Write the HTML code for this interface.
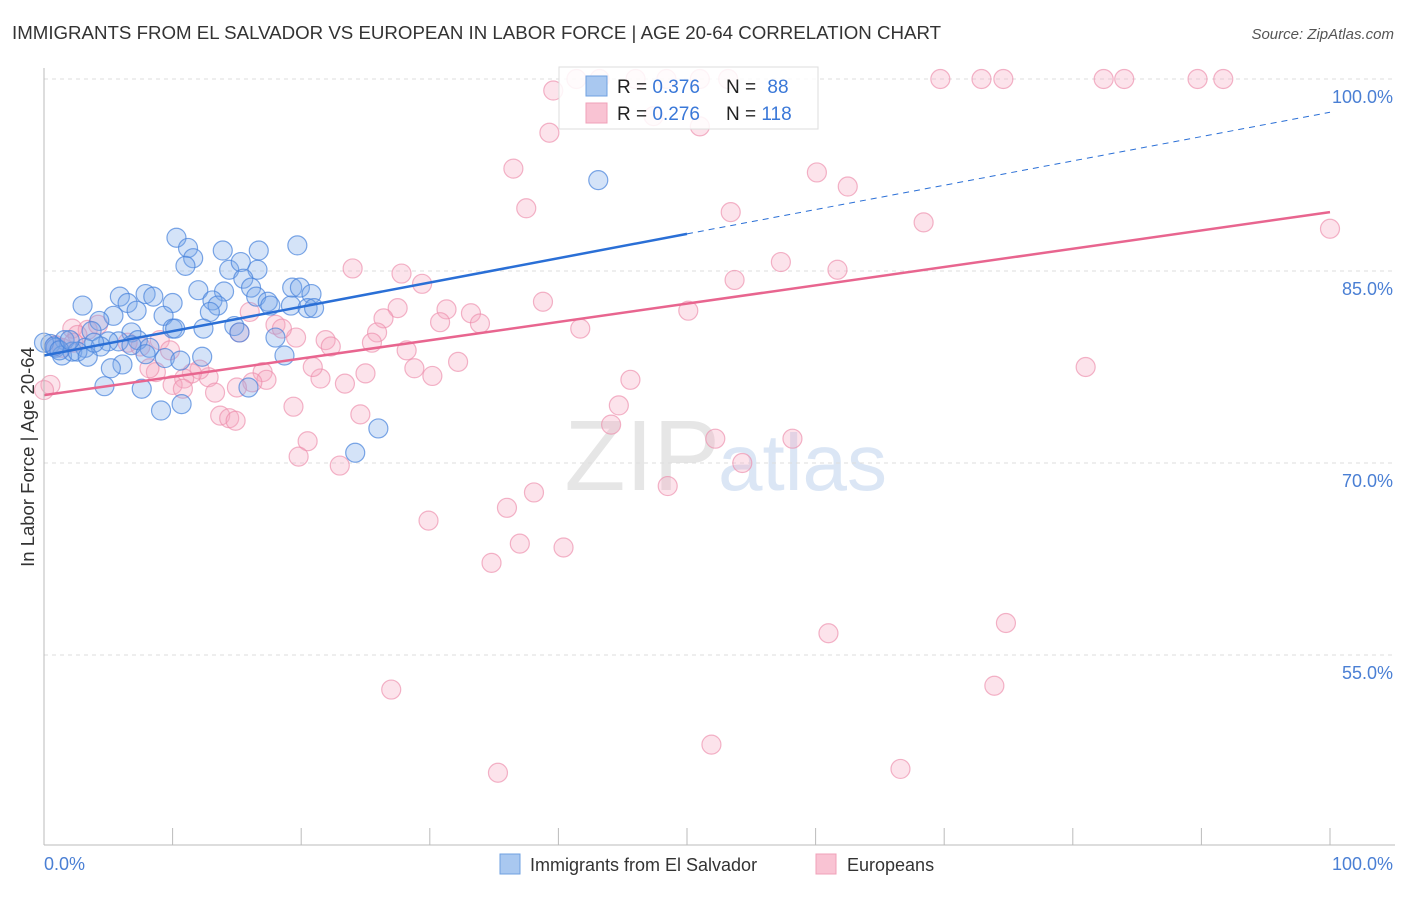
<!DOCTYPE html>
<html><head><meta charset="utf-8"><style>
body{margin:0;background:#fff;font-family:"Liberation Sans",sans-serif;}
svg text{font-family:"Liberation Sans",sans-serif;}
</style></head><body>
<svg id="c" width="1406" height="892" viewBox="0 0 1406 892">
<text x="12" y="39" font-size="18.7" fill="#333">IMMIGRANTS FROM EL SALVADOR VS EUROPEAN IN LABOR FORCE | AGE 20-64 CORRELATION CHART</text>
<text x="1394" y="39" font-size="15" fill="#555" text-anchor="end" font-style="italic">Source: ZipAtlas.com</text>
<text transform="translate(34,457) rotate(-90)" font-size="18.5" fill="#333" text-anchor="middle">In Labor Force | Age 20-64</text>
<text x="720" y="490" font-size="100" fill="#e6e6e6" text-anchor="end" font-family="Liberation Serif">ZIP</text>
<text x="718" y="490" font-size="80" fill="#dbe6f5">atlas</text>
<g id="grid"></g><g id="pts"></g><g id="trend"></g>
<line x1="44" y1="68" x2="44" y2="845" stroke="#bbb"/>
<line x1="44" y1="845" x2="1395" y2="845" stroke="#bbb"/>
<text x="44" y="870" font-size="18" fill="#4a7fd4">0.0%</text>
<text x="1393" y="870" font-size="18" fill="#4a7fd4" text-anchor="end">100.0%</text>
<g>
<rect x="559" y="67" width="259" height="62" fill="#fff" fill-opacity="0.85" stroke="#ddd"/>
<rect x="586" y="76" width="21" height="20" fill="#a9c8f0" stroke="#6fa0e0"/>
<rect x="586" y="103" width="21" height="20" fill="#f9c3d3" stroke="#f0a0b8"/>
<text x="617" y="93" font-size="19" fill="#222">R = <tspan fill="#3a78d8">0.376</tspan></text>
<text x="726" y="93" font-size="19" fill="#222">N = <tspan fill="#3a78d8" dx="6">88</tspan></text>
<text x="617" y="120" font-size="19" fill="#222">R = <tspan fill="#3a78d8">0.276</tspan></text>
<text x="726" y="120" font-size="19" fill="#222">N = <tspan fill="#3a78d8">118</tspan></text>
</g>
<g>
<rect x="500" y="854" width="20" height="20" fill="#a9c8f0" stroke="#6fa0e0"/>
<text x="530" y="871" font-size="18" fill="#333">Immigrants from El Salvador</text>
<rect x="816" y="854" width="20" height="20" fill="#f9c3d3" stroke="#f0a0b8"/>
<text x="847" y="871" font-size="18" fill="#333">Europeans</text>
</g>
</svg>
<script>
const yTicks=[100,85,70,55];
const yTickLabels=["100.0%","85.0%","70.0%","55.0%"];
const blueX=[43.1,19.7,10.3,11.2,11.6,13.9,16.7,11.0,14.4,15.3,16.6,15.5,3.0,5.9,7.9,8.5,6.5,10.0,12.0,14.0,13.1,13.5,12.9,16.1,16.5,17.4,17.6,19.3,19.9,20.8,19.2,20.5,21.0,5.4,7.2,9.3,10.0,10.2,12.4,14.8,15.2,18.0,18.7,4.3,3.7,6.8,7.3,5.8,5.0,1.6,0.5,0.9,1.4,2.2,3.2,4.4,8.2,9.4,10.6,12.3,6.1,5.2,4.7,7.6,9.1,10.7,15.9,24.2,26.0,0,0.8,1.2,2.6,3.4,3.9,6.8,7.9,2.0];
const blueY=[92.1,87.0,87.6,86.8,86.0,86.6,86.6,85.4,85.1,85.7,85.1,84.4,82.3,83.0,83.2,83.0,82.5,82.5,83.5,83.4,82.7,82.3,81.8,83.7,83.0,82.6,82.3,83.7,83.7,83.2,82.3,82.1,82.1,81.5,81.9,81.5,80.5,80.5,80.5,80.7,80.2,79.8,78.4,81.1,80.3,80.2,79.6,79.5,79.5,79.6,79.3,79.0,78.4,78.7,79.0,79.1,79.0,78.2,78.0,78.3,77.7,77.4,76.0,75.8,74.1,74.6,75.9,70.8,72.7,79.4,79.1,78.8,78.7,78.3,79.4,79.2,78.5,79.6];
const pinkX=[41.4,43.2,46.0,48.4,51.0,53.2,69.7,72.9,74.6,82.4,84.0,89.7,91.7,39.6,39.3,51.0,47.4,36.5,37.5,60.1,62.5,53.4,68.4,100,24.0,27.8,29.4,57.3,61.7,53.7,38.8,50.1,27.5,31.3,33.2,33.9,30.8,26.4,41.7,25.9,28.2,25.5,21.9,22.3,19.6,16.0,18.0,18.5,15.2,2.2,3.4,4.2,2.6,1.4,2.3,6.5,7.5,9.0,9.8,32.2,28.8,30.2,25.0,23.4,21.5,20.9,17.0,17.3,16.2,15.0,12.8,12.1,11.5,10.9,10.0,8.7,8.2,13.3,10.8,45.6,44.7,44.1,52.2,58.2,54.3,48.5,38.1,36.0,29.9,37.0,40.4,34.8,81.0,24.6,19.4,20.5,19.8,23.0,13.7,14.4,14.9,61.0,74.8,27.0,73.9,51.9,35.3,66.6,0.5,0,0.9];
const pinkY=[100,100,100,100,100,100,100,100,100,100,100,100,100,99.1,95.8,96.3,97.1,93.0,89.9,92.7,91.6,89.6,88.8,88.3,85.2,84.8,84.0,85.7,85.1,84.3,82.6,81.9,82.1,82.0,81.7,80.9,81.0,81.3,80.5,80.2,78.8,79.4,79.6,79.1,79.8,81.8,80.8,80.5,80.2,80.5,80.4,80.8,80.0,79.0,79.4,79.4,79.1,79.6,78.8,77.9,77.4,76.8,77.0,76.2,76.6,77.5,77.1,76.5,76.3,75.9,76.7,77.3,77.0,76.6,76.1,77.1,77.4,75.5,75.8,76.5,74.5,73.0,71.9,71.9,70.0,68.2,67.7,66.5,65.5,63.7,63.4,62.2,77.5,73.8,74.4,71.7,70.5,69.8,73.7,73.5,73.3,56.7,57.5,52.3,52.6,48.0,45.8,46.1,76.1,75.7,79.2];
const blueTrend=[78.4,0.19];
const pinkTrend=[75.3,0.143];
const NS="http://www.w3.org/2000/svg";
const sx=v=>44+v*12.86;
const sy=v=>79+(100-v)*12.8;
function mk(tag,attrs,parent){const e=document.createElementNS(NS,tag);for(const k in attrs)e.setAttribute(k,attrs[k]);parent.appendChild(e);return e;}
const grid=document.getElementById('grid');
yTicks.forEach((t,i)=>{
 const l=mk('line',{x1:44,x2:1395,y1:sy(t),y2:sy(t),stroke:'#ddd','stroke-dasharray':'4,4'},grid);
 
 
 const tx=mk('text',{x:1393,y:sy(t)+24,'font-size':18,fill:'#4a7fd4','text-anchor':'end'},grid);
 tx.textContent=yTickLabels[i];
 
 
});
for(let i=0;i<=10;i++){
 const t=mk('line',{x1:sx(i*10),x2:sx(i*10),y1:828,y2:845,stroke:'#bbb'},grid);
 
 
}
const pts=document.getElementById('pts');
pinkX.forEach((x,i)=>{
 const c=mk('circle',{cx:sx(x),cy:sy(pinkY[i]),r:9.5,fill:'rgba(246,168,192,0.32)',stroke:'rgba(236,140,170,0.65)','stroke-width':1.2},pts);
 
 
});
blueX.forEach((x,i)=>{
 const c=mk('circle',{cx:sx(x),cy:sy(blueY[i]),r:9.5,fill:'rgba(120,168,232,0.32)',stroke:'rgba(70,130,220,0.7)','stroke-width':1.2},pts);
 
 
});
const tr=document.getElementById('trend');
const bl=mk('line',{x1:sx(0),y1:sy(blueTrend[0]),x2:sx(50),y2:sy(blueTrend[0]+blueTrend[1]*50),stroke:'#2a6fd6','stroke-width':2.5},tr);


const bd=mk('line',{x1:sx(50),y1:sy(blueTrend[0]+blueTrend[1]*50),x2:sx(100),y2:sy(blueTrend[0]+blueTrend[1]*100),stroke:'#2a6fd6','stroke-width':1,'stroke-dasharray':'6,5'},tr);


const pl=mk('line',{x1:sx(0),y1:sy(pinkTrend[0]),x2:sx(100),y2:sy(pinkTrend[0]+pinkTrend[1]*100),stroke:'#e8658f','stroke-width':2.5},tr);


</script>
</body></html>
